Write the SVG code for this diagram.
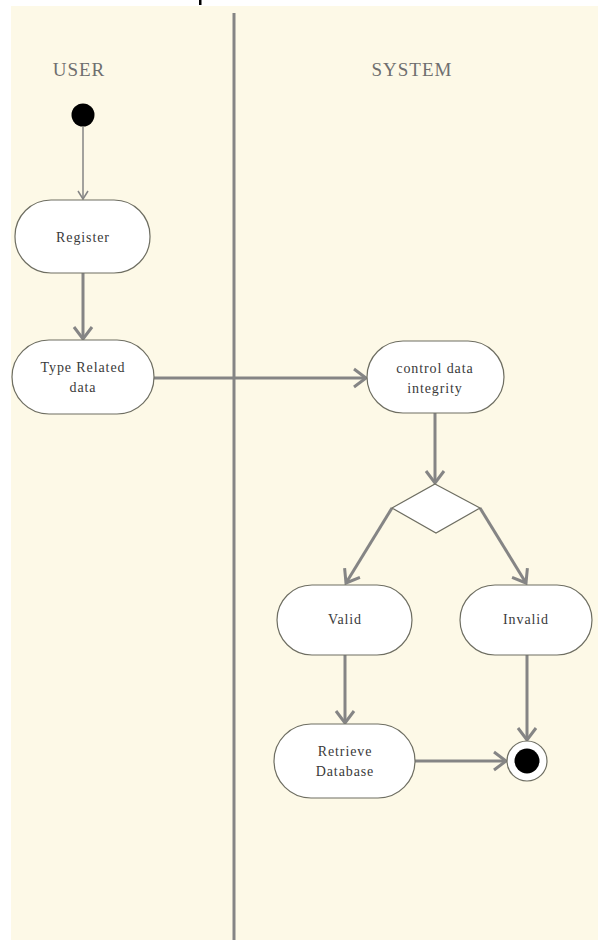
<svg xmlns="http://www.w3.org/2000/svg" width="598" height="940" viewBox="0 0 598 940">
<style>
.lane{font-family:"Liberation Serif",serif;font-size:19px;fill:#6f6f6f;letter-spacing:1px;text-anchor:middle}
.node{fill:#ffffff;stroke:#6e6e62;stroke-width:1.2}
.lbl{font-family:"Liberation Serif",serif;font-size:14px;fill:#3a3a3a;text-anchor:middle;letter-spacing:0.9px}
.edge{stroke:#858585;stroke-width:3;fill:none}
.thin{stroke:#858585;stroke-width:1.5;fill:none}
</style>
<defs>
<marker id="arr" markerUnits="userSpaceOnUse" markerWidth="24" markerHeight="24" refX="14" refY="10" orient="auto" viewBox="0 0 24 20">
<path d="M2,1 L14,10 L2,19" fill="none" stroke="#858585" stroke-width="3"/>
</marker>
<marker id="arrs" markerUnits="userSpaceOnUse" markerWidth="14" markerHeight="14" refX="9" refY="6" orient="auto" viewBox="0 0 14 12">
<path d="M1,1 L9,6 L1,11" fill="none" stroke="#858585" stroke-width="1.5"/>
</marker>
</defs>
<rect x="0" y="0" width="598" height="940" fill="#ffffff"/>
<rect x="11" y="6" width="587" height="934" fill="#fdf9e7"/>
<rect x="199" y="0" width="2.5" height="5" fill="#000000"/>
<g id="lanes">
<line x1="234" y1="13" x2="234" y2="940" stroke="#858585" stroke-width="3"/>
<text class="lane" x="79" y="76">USER</text>
<text class="lane" x="412" y="76">SYSTEM</text>
</g>
<g id="connectors">
<line class="thin" x1="83" y1="127" x2="83" y2="199" marker-end="url(#arrs)"/>
<line class="edge" x1="83" y1="273" x2="83" y2="339" marker-end="url(#arr)"/>
<line class="edge" x1="154" y1="378" x2="366" y2="378" marker-end="url(#arr)"/>
<line class="edge" x1="435" y1="413" x2="435" y2="483" marker-end="url(#arr)"/>
<line class="edge" x1="392" y1="508" x2="346" y2="583" marker-end="url(#arr)"/>
<line class="edge" x1="480" y1="508" x2="526" y2="583" marker-end="url(#arr)"/>
<line class="edge" x1="345" y1="655" x2="345" y2="723" marker-end="url(#arr)"/>
<line class="edge" x1="527" y1="655" x2="527" y2="740" marker-end="url(#arr)"/>
<line class="edge" x1="415" y1="761" x2="506" y2="761" marker-end="url(#arr)"/>
</g>
<g id="start">
<circle cx="83" cy="115" r="11.5" fill="#000000"/>
</g>
<g id="register">
<rect class="node" x="15" y="200" width="135" height="73" rx="36" ry="36"/>
<text class="lbl" x="83" y="242">Register</text>
</g>
<g id="type-related-data">
<rect class="node" x="12" y="340" width="142" height="74" rx="37" ry="37"/>
<text class="lbl" x="83" y="372">Type Related</text>
<text class="lbl" x="83" y="392">data</text>
</g>
<g id="control-data-integrity">
<rect class="node" x="367" y="341" width="137" height="72" rx="36" ry="36"/>
<text class="lbl" x="435" y="373">control data</text>
<text class="lbl" x="435" y="393">integrity</text>
</g>
<g id="decision">
<polygon class="node" points="435,484 480,508 436,533 392,508"/>
</g>
<g id="valid">
<rect class="node" x="277" y="585" width="135" height="70" rx="35" ry="35"/>
<text class="lbl" x="345" y="624">Valid</text>
</g>
<g id="invalid">
<rect class="node" x="460" y="585" width="132" height="70" rx="35" ry="35"/>
<text class="lbl" x="526" y="624">Invalid</text>
</g>
<g id="retrieve-database">
<rect class="node" x="274" y="724" width="141" height="74" rx="37" ry="37"/>
<text class="lbl" x="345" y="756">Retrieve</text>
<text class="lbl" x="345" y="776">Database</text>
</g>
<g id="end">
<circle cx="527" cy="761" r="20" fill="#ffffff" stroke="#6e6e62" stroke-width="1.2"/>
<circle cx="527" cy="761" r="12.5" fill="#000000"/>
</g>
</svg>
